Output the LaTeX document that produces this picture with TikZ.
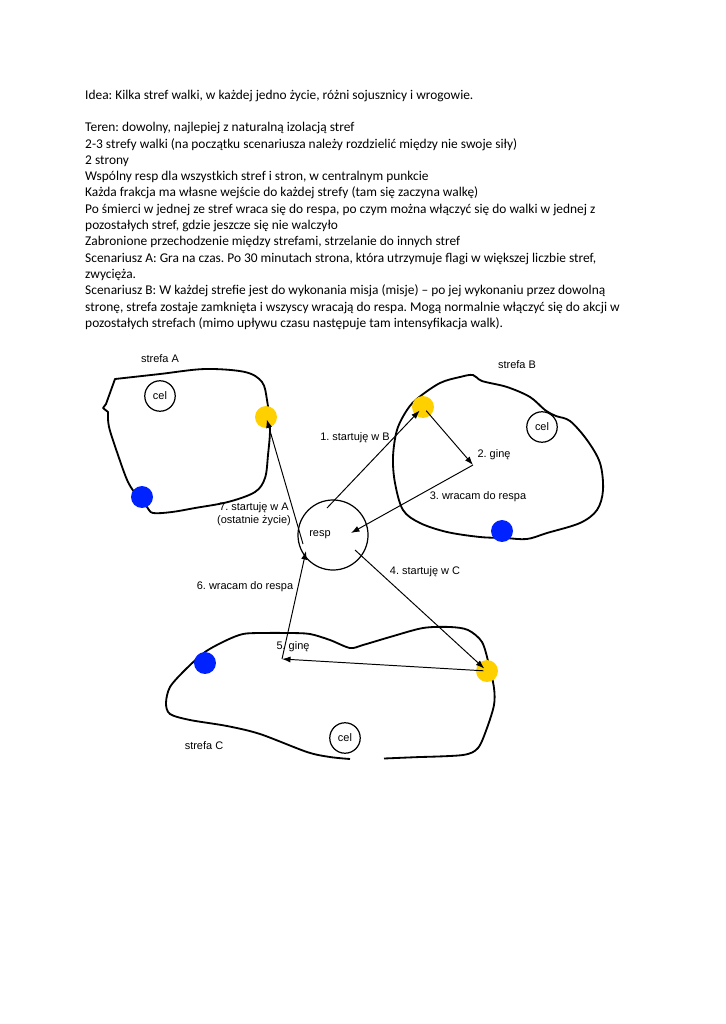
\documentclass[tikz,border=0pt]{standalone}
\usepackage{fontspec}
\setmainfont{Carlito}
\newfontfamily\labelfont{Liberation Sans}
\usetikzlibrary{arrows.meta}
\definecolor{startyellow}{RGB}{255,208,0}
\definecolor{startblue}{RGB}{0,34,255}
\frenchspacing

\tikzset{
  zone/.style={line width=1.5pt, line join=round},
  dot/.style={circle, inner sep=0pt, minimum size=18pt},
  yellowdot/.style={dot, fill=startyellow},
  bluedot/.style={dot, fill=startblue},
  lbl/.style={font=\labelfont\fontsize{9}{11}\selectfont, inner sep=0pt},
  target/.style={lbl, circle, draw, line width=1pt, minimum size=25pt},
  hub/.style={circle, draw, line width=1pt, minimum size=57.5pt, inner sep=0pt},
  move/.style={-{Latex[length=7pt,width=5pt]}, line width=0.8pt},
}

\begin{document}
\begin{tikzpicture}[x=0.8211pt, y=-0.8211pt]
  \useasboundingbox (0,0) rectangle (725,1024);

  \node[anchor=north west, inner sep=0pt, align=left,
        font=\fontsize{11}{13.4}\selectfont] (notes) at (85,89.5)
    {Idea: Kilka stref walki, w każdej jedno życie, różni sojusznicy i wrogowie.\\[13.4pt]
     Teren: dowolny, najlepiej z naturalną izolacją stref\\
     2-3 strefy walki (na początku scenariusza należy rozdzielić między nie swoje siły)\\
     2 strony\\
     Wspólny resp dla wszystkich stref i stron, w centralnym punkcie\\
     Każda frakcja ma własne wejście do każdej strefy (tam się zaczyna walkę)\\
     Po śmierci w jednej ze stref wraca się do respa, po czym można włączyć się do walki w jednej z\\
     pozostałych stref, gdzie jeszcze się nie walczyło\\
     Zabronione przechodzenie między strefami, strzelanie do innych stref\\
     Scenariusz A: Gra na czas. Po 30 minutach strona, która utrzymuje flagi w większej liczbie stref,\\
     zwycięża.\\
     Scenariusz B: W każdej strefie jest do wykonania misja (misje) – po jej wykonaniu przez dowolną\\
     stronę, strefa zostaje zamknięta i wszyscy wracają do respa. Mogą normalnie włączyć się do akcji w\\
     pozostałych strefach (mimo upływu czasu następuje tam intensyfikacja walk).};

  % strefy
  \draw[zone] plot[smooth, tension=0.55] coordinates {(108,412) (109,427) (118,455) (128,482)
    (138,497) (147,507) (153,513) (172,512) (195,508) (228,502) (255,492) (265,478) (268,455)
    (270,428) (267,400) (262,382) (245,372) (205,369) (160,374) (115,379)}
    -- (106,404) -- (103,408) -- cycle;
  \draw[zone] plot[smooth cycle, tension=0.55] coordinates {(418,398) (440,383) (460,377)
    (473,375) (482,381) (507,387) (530,397) (545,410) (556,416) (570,421) (587,440) (600,463)
    (603,490) (597,510) (580,523) (547,533) (527,539) (505,538) (480,537) (447,532) (420,523)
    (403,510) (395,483) (393,457) (397,430) (407,410)};
  \draw[zone] plot[smooth, tension=0.5] coordinates {(420,757)
    (463,755) (478,748) (487,728) (494,705) (494,688) (489,665) (482,642) (468,630) (450,627)
    (423,628) (390,637) (363,645) (350,648) (330,640) (310,634) (290,633) (260,633) (243,634)
    (227,640) (205,652) (185,670) (170,687) (166,703) (170,714) (190,720) (227,726) (260,734)
    (307,752) (330,757) (350,759)};
  \draw[zone] (384,758.5) -- (420,757);

  \node[lbl] (nameA) at (160,359) {strefa A};
  \node[lbl] (nameB) at (517,365) {strefa B};
  \node[lbl] (nameC) at (204,746) {strefa C};

  \node[target, fill=white] (celA) at (160,396) {cel};
  \node[target, fill=white] (celB) at (542,427) {cel};
  \node[target, fill=white] (celC) at (345,738) {cel};

  \node[yellowdot] (startA) at (266,417) {};
  \node[bluedot] (baseA) at (142,497) {};
  \node[yellowdot] (startB) at (423,407) {};
  \node[bluedot] (baseB) at (502,531) {};
  \node[yellowdot] (startC) at (487,671) {};
  \node[bluedot] (baseC) at (205,663) {};

  \node[hub] (resp) at (333,535) {};
  \node[lbl] (respText) at (320,535) {resp};

  \coordinate (dieB) at (473,465);
  \coordinate (dieC) at (282,659);
  \coordinate (respOne) at (327,508);
  \coordinate (respThree) at (351,533);
  \coordinate (respFour) at (355,550);
  \coordinate (respSix) at (306,551);
  \coordinate (respSeven) at (303,544);

  % ruchy
  \draw[move, shorten >=4pt] (respOne) -- (startB.center);
  \draw[move, shorten <=4pt] (startB.center) -- (dieB);
  \draw[move] (dieB) -- (respThree);
  \draw[move, shorten >=3pt] (respFour) -- (startC.center);
  \draw[move, shorten <=3pt] (startC.center) -- (dieC);
  \draw[move] (dieC) -- (respSix);
  \draw[move, shorten >=2pt] (respSeven) -- (startA.center);

  \node[lbl] (stepOne) at (355,438) {1. startuję w B};
  \node[lbl] (stepTwo) at (494,455) {2. ginę};
  \node[lbl] (stepThree) at (478,497) {3. wracam do respa};
  \node[lbl] (stepFour) at (425,572) {4. startuję w C};
  \node[lbl] (stepFive) at (293,647) {5. ginę};
  \node[lbl] (stepSix) at (245,587) {6. wracam do respa};
  \node[lbl, align=center] (stepSeven) at (254,514) {7. startuję w A\\(ostatnie życie)};
\end{tikzpicture}
\end{document}
